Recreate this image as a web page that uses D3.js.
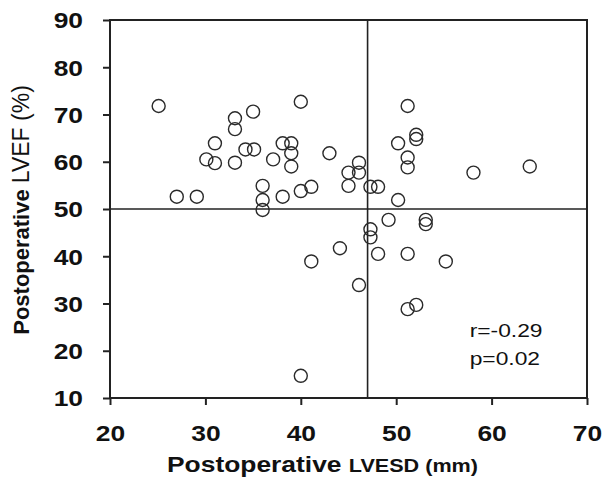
<!DOCTYPE html>
<html>
<head>
<meta charset="utf-8">
<script src="https://cdn.jsdelivr.net/npm/d3@7"></script>
<style>
  html, body { margin: 0; padding: 0; background: #fff; }
  svg { display: block; font-family: "Liberation Sans", Arial, sans-serif; }
</style>
</head>
<body>
<div id="chart"></div>
<script>
// values
const LVESD = [25.1, 27.0, 29.1, 30.1, 31.0, 31.0, 33.1, 33.1, 33.1, 35.0, 34.2, 35.1, 37.1, 38.1,
  39.0, 39.0, 39.0, 40.0, 43.0, 36.0, 36.0, 36.0, 38.1, 40.0, 41.1, 45.0, 45.0, 51.2, 52.1, 52.1,
  50.2, 51.2, 51.2, 58.1, 64.0, 46.1, 46.1, 47.3, 48.1, 50.2, 49.2, 53.1, 53.1, 47.3, 47.3, 44.1,
  48.1, 51.2, 55.2, 46.1, 51.2, 52.1, 41.1, 40.0];
const LVEF = [71.8, 52.6, 52.6, 60.5, 59.7, 63.9, 69.2, 66.9, 59.8, 70.6, 62.6, 62.6, 60.5, 63.9,
  63.9, 61.8, 59.0, 72.7, 61.8, 54.9, 51.9, 49.8, 52.6, 53.8, 54.7, 57.7, 54.9, 71.8, 65.7, 64.8,
  63.9, 60.9, 58.8, 57.7, 59.0, 59.8, 57.7, 54.7, 54.7, 51.9, 47.7, 47.7, 46.8, 45.7, 44.0, 41.7,
  40.5, 40.5, 38.9, 33.9, 28.8, 29.7, 38.9, 14.7];
const X_TICKS = [20, 30, 40, 50, 60, 70];
const Y_TICKS = [10, 20, 30, 40, 50, 60, 70, 80, 90];
const CUT_X = 47;
const CUT_Y = 50;
const STATS = ["r=-0.29", "p=0.02"];

const W = 602, H = 480;
const margin = { top: 20, right: 15, bottom: 82, left: 110 };
const width = W - margin.left - margin.right;
const height = H - margin.top - margin.bottom;
const SX = 1.2; // scan is a little wider than tall
const FONT = "'Liberation Sans', Arial, sans-serif";

const svg = d3.select("#chart").append("svg")
  .attr("width", W)
  .attr("height", H);

const g = svg.append("g")
  .attr("transform", `translate(${margin.left},${margin.top})`);

const x = d3.scaleLinear().domain([20, 70]).range([0, width]);
const y = d3.scaleLinear().domain([10, 90]).range([height, 0]);

// reference lines
g.append("line")
  .attr("x1", x(CUT_X)).attr("x2", x(CUT_X))
  .attr("y1", 0).attr("y2", height)
  .attr("stroke", "#222").attr("stroke-width", 1.6);
g.append("line")
  .attr("x1", 0).attr("x2", width)
  .attr("y1", y(CUT_Y)).attr("y2", y(CUT_Y))
  .attr("stroke", "#222").attr("stroke-width", 1.6);

// frame
g.append("rect")
  .attr("width", width).attr("height", height)
  .attr("fill", "none").attr("stroke", "#222").attr("stroke-width", 2);

const xAxis = g.append("g")
  .attr("transform", `translate(0,${height})`)
  .call(d3.axisBottom(x).tickValues(X_TICKS).tickSize(7).tickPadding(0));
xAxis.select(".domain").remove();
xAxis.selectAll("line").attr("stroke", "#222").attr("stroke-width", 2);
xAxis.selectAll("text")
  .attr("y", 43)
  .attr("dy", null)
  .attr("transform", `scale(${SX},1)`)
  .attr("fill", "#111")
  .attr("font-size", "22px")
  .attr("font-weight", "bold")
  .attr("font-family", FONT);

const yAxis = g.append("g")
  .call(d3.axisLeft(y).tickValues(Y_TICKS).tickSize(7));
yAxis.select(".domain").remove();
yAxis.selectAll("line").attr("stroke", "#222").attr("stroke-width", 2);
yAxis.selectAll("text")
  .attr("x", -22.5)
  .attr("dy", "0.36em")
  .attr("transform", `scale(${SX},1)`)
  .attr("fill", "#111")
  .attr("font-size", "22px")
  .attr("font-weight", "bold")
  .attr("font-family", FONT);

// points
g.selectAll(".pt")
  .data(LVESD.map((v, i) => [v, LVEF[i]]))
  .enter()
  .append("circle")
  .attr("class", "pt")
  .attr("cx", d => x(d[0]))
  .attr("cy", d => y(d[1]))
  .attr("r", 6.5)
  .attr("fill", "none")
  .attr("stroke", "#2a2a2a")
  .attr("stroke-width", 1.4);

// stats text
const st = g.append("g")
  .attr("transform", `translate(${x(57.7)},${y(22.9)}) scale(${SX},1)`);
st.selectAll("text")
  .data(STATS)
  .enter()
  .append("text")
  .attr("y", (d, i) => i * 28)
  .attr("font-size", "19px")
  .attr("fill", "#111")
  .text(d => d);

// x title
const xt = svg.append("text")
  .attr("transform", `translate(${margin.left + width / 2 - 26},${H - 8}) scale(${SX},1)`)
  .attr("text-anchor", "middle")
  .attr("fill", "#111");
xt.append("tspan").attr("font-size", "22px").attr("font-weight", "bold").text("Postoperative ");
xt.append("tspan").attr("font-size", "18px").attr("font-weight", "bold").text("LVESD (mm)");

// y title
const yt = svg.append("text")
  .attr("transform", `translate(29,${margin.top + 190}) rotate(-90)`)
  .attr("text-anchor", "middle")
  .attr("fill", "#111");
yt.append("tspan").attr("font-size", "22px").attr("font-weight", "bold").text("Postoperative ");
yt.append("tspan").attr("font-size", "23px").text("LVEF (%)");
</script>
</body>
</html>
